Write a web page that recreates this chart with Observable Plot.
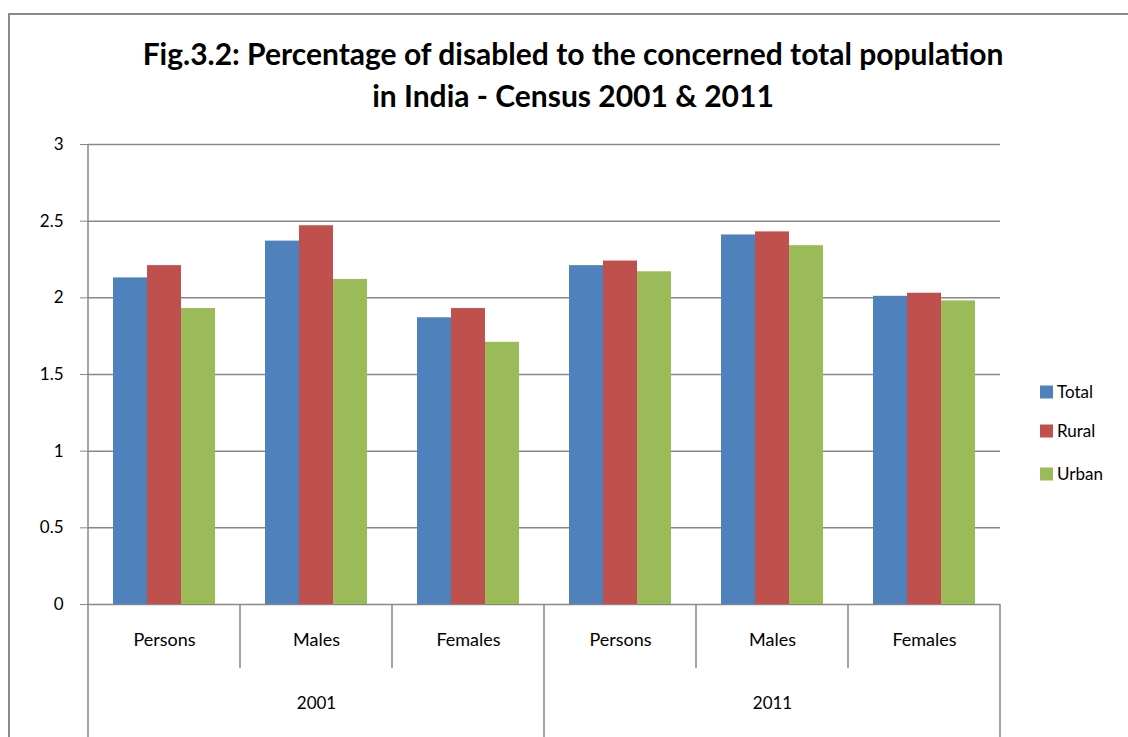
<!DOCTYPE html>
<html>
<head>
<meta charset="utf-8">
<script src="https://cdn.jsdelivr.net/npm/d3@7"></script>
<script src="https://cdn.jsdelivr.net/npm/@observablehq/plot@0.6"></script>
<style>
  html, body { margin: 0; padding: 0; background: white; width: 1128px; height: 737px; overflow: hidden; }
  #wrap { position: relative; width: 1128px; height: 737px; font-family: Lato, "Open Sans", sans-serif; }
  #frame { position: absolute; left: 8px; top: 13px; width: 1140px; height: 740px; border: 2px solid #8a8a8a; box-sizing: border-box; pointer-events: none; z-index: 3; }
  #title { position: absolute; left: 0; width: 1146px; top: 32px; text-align: center; font-weight: bold; font-size: 30px; line-height: 42px; color: #000; z-index: 2; }
  #chart { position: absolute; left: 0; top: 0; z-index: 1; }
</style>
</head>
<body>
<div id="wrap">
  <div id="frame"></div>
  <div id="title">Fig.3.2: Percentage of disabled to the concerned total population<br>in India - Census 2001 &amp; 2011</div>
  <div id="chart"></div>
</div>
<script>
const years = ["2001", "2011"];
const categories = ["Persons", "Males", "Females"];
const series = ["Total", "Rural", "Urban"];
const colors = ["#4F81BD", "#C0504D", "#9BBB59"];
const yTicks = [0, 0.5, 1, 1.5, 2, 2.5, 3];
// values[category] = [Total, Rural, Urban]
const values2001 = [[2.13, 2.21, 1.93], [2.37, 2.47, 2.12], [1.87, 1.93, 1.71]];
const values2011 = [[2.21, 2.24, 2.17], [2.41, 2.43, 2.34], [2.01, 2.03, 1.98]];

const valuesByYear = [values2001, values2011];
const groups = [];
const rows = [];
years.forEach((yr, yi) => {
  categories.forEach((cat, ci) => {
    const key = yr + " " + cat;
    groups.push({key, year: yr, cat, mid: ci === 1});
    series.forEach((s, si) => rows.push({key, series: s, value: valuesByYear[yi][ci][si]}));
  });
});
const keys = groups.map(d => d.key);

const W = 1128, H = 737;
const FONT = "Lato, 'Open Sans', sans-serif";
const plot = Plot.plot({
  width: W, height: H,
  marginLeft: 88, marginRight: 128, marginTop: 144, marginBottom: 133,
  style: {background: "transparent", fontFamily: FONT, overflow: "visible"},
  fx: {domain: keys, padding: 0, axis: null},
  x: {domain: series, paddingInner: 0, paddingOuter: 0.735, axis: null},
  y: {domain: [0, 3], ticks: yTicks, axis: null, label: null},
  color: {domain: series, range: colors},
  marks: [
    Plot.gridY(yTicks, {stroke: "#878787", strokeOpacity: 1, strokeWidth: 1.5}),
    Plot.axisY(yTicks, {tickSize: 8, tickPadding: 17, stroke: "#878787", fill: "black", fontSize: 17, label: null, tickFormat: d => String(d)}),
    Plot.barY(rows, {fx: "key", x: "series", y: "value", fill: "series"}),
    Plot.text(groups, {fx: "key", text: "cat", frameAnchor: "bottom", dy: 41, fontSize: 18, fill: "black"}),
    Plot.text(groups.filter(d => d.mid), {fx: "key", text: "year", frameAnchor: "bottom", dy: 104, fontSize: 17, fill: "black"})
  ]
});
document.getElementById("chart").appendChild(plot);

// axis box and dividers derived from the fx/y scales
const fx = plot.scale("fx");
const ys = plot.scale("y");
const svg = d3.select(plot);
const y0 = ys.apply(0), yTop = ys.apply(3);
const left = fx.range[0], right = fx.range[1];
const g = svg.append("g").attr("stroke", "#878787").attr("stroke-width", 1.5);
g.append("line").attr("x1", left).attr("x2", left).attr("y1", yTop).attr("y2", H);
g.append("line").attr("x1", right).attr("x2", right).attr("y1", y0).attr("y2", H);
keys.forEach((k, i) => {
  if (i === 0) return;
  const x = fx.apply(k);
  const yearBoundary = i % categories.length === 0;
  g.append("line").attr("x1", x).attr("x2", x).attr("y1", y0).attr("y2", yearBoundary ? H : y0 + 64);
});

// legend
const lg = svg.append("g").attr("font-family", FONT).attr("font-size", 17).attr("text-anchor", "start");
const legendY = [392, 431, 474];
series.forEach((s, i) => {
  lg.append("rect").attr("x", 1040).attr("y", legendY[i] - 6.5).attr("width", 13).attr("height", 13).attr("fill", colors[i]);
  lg.append("text").attr("x", 1057).attr("y", legendY[i]).attr("dy", "0.35em").attr("fill", "black").text(s);
});
</script>
</body>
</html>
